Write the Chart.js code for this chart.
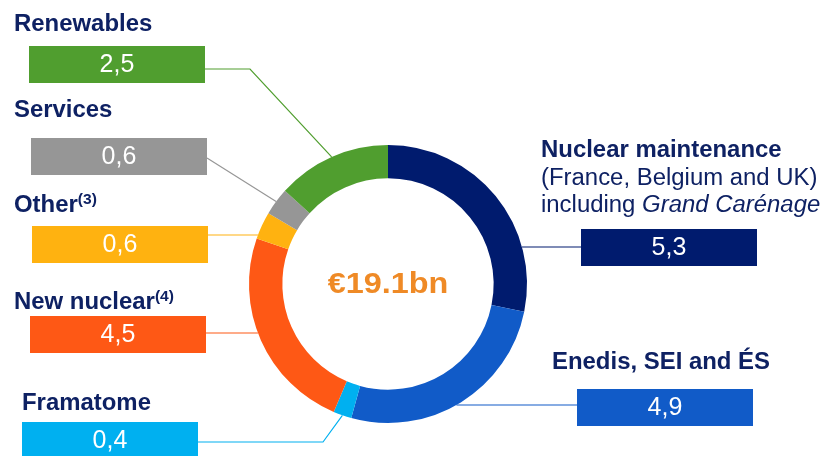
<!DOCTYPE html>
<html>
<head>
	<meta http-equiv="Content-Type" content="text/html; charset=utf-8"/>
	<script type="text/javascript" src="https://cdn.jsdelivr.net/npm/chart.js@4/dist/chart.umd.min.js"></script>
	<style type="text/css">
		body{ margin:0; background:#fff; }
		#wrap{ width:825px; height:456px; }
	</style>
</head>
<body>
	<div id="wrap">
		<canvas id="chart" width="825" height="456"></canvas>
	</div>
	<script type="text/javascript">
		// segments, clockwise from 12 o'clock
		var categorias = ["Nuclear maintenance", "Enedis, SEI and ÉS", "Framatome", "New nuclear", "Other", "Services", "Renewables"];
		var valores = [5.3, 4.9, 0.4, 4.5, 0.6, 0.6, 2.5];
		var etiquetas = ["5,3", "4,9", "0,4", "4,5", "0,6", "0,6", "2,5"];
		var colores = ["#001B6E", "#115BC8", "#00B0F0", "#FE5815", "#FFB210", "#969696", "#509E2F"];
		var total = "€19.1bn";

		var AZUL = "#0E2163";
		var FUENTE = "Liberation Sans, Arial, sans-serif";

		// where each label box sits and how its line runs
		var cajas = [
			{ x:581, y:229, titulo:[["b","Nuclear maintenance"]], tx:541, ty:157,
			  extra:[[["n","(France, Belgium and UK)"]], [["n","including "],["i","Grand Carénage"]]],
			  linea:{ tipo:"h", y:247, lado:1 } },
			{ x:577, y:389, titulo:[["b","Enedis, SEI and ÉS"]], tx:552, ty:369,
			  linea:{ tipo:"h", y:405, lado:1 } },
			{ x:22, y:422, titulo:[["b","Framatome"]], tx:22, ty:410,
			  linea:{ tipo:"codo", y:442, codo:323 } },
			{ x:30, y:316, titulo:[["b","New nuclear"],["s","(4)"]], tx:14, ty:309,
			  linea:{ tipo:"h", y:333, lado:-1 } },
			{ x:32, y:226, titulo:[["b","Other"],["s","(3)"]], tx:14, ty:212,
			  linea:{ tipo:"h", y:235, lado:-1 } },
			{ x:31, y:138, titulo:[["b","Services"]], tx:14, ty:117,
			  linea:{ tipo:"diag", y:158 } },
			{ x:29, y:46, titulo:[["b","Renewables"]], tx:14, ty:31,
			  linea:{ tipo:"codo", y:69, codo:250 } }
		];
		var ANCHO = 176, ALTO = 37;

		// text in the slide is a bit wider than plain Arial
		function escribir(ctx, partes, x, y){
			ctx.save();
			ctx.translate(x, y);
			ctx.scale(1.04, 1);
			var px = 0;
			for (var k in partes) {
				var t = partes[k][0], s = partes[k][1], dy = 0;
				if (t == "b") ctx.font = "bold 23px " + FUENTE;
				else if (t == "i") ctx.font = "italic 23px " + FUENTE;
				else if (t == "s") { ctx.font = "bold 15px " + FUENTE; dy = -8; }
				else ctx.font = "23px " + FUENTE;
				ctx.fillText(s, px, dy);
				px += ctx.measureText(s).width;
			}
			ctx.restore();
		}

		var etiquetasPlugin = {
			id: "etiquetas",
			afterDraw: function(chart){
				var ctx = chart.ctx;
				var meta = chart.getDatasetMeta(0);
				ctx.save();
				for (var i = 0; i < cajas.length; i++) {
					var c = cajas[i];
					var arc = meta.data[i].getProps(["x","y","startAngle","endAngle","outerRadius"], true);
					var r = arc.outerRadius;
					var izq = c.x < arc.x;
					var bx = izq ? c.x + ANCHO : c.x;

					// leader line
					ctx.strokeStyle = colores[i];
					ctx.lineWidth = 1.2;
					ctx.beginPath();
					ctx.moveTo(bx, c.linea.y);
					if (c.linea.tipo == "h") {
						var dx = Math.sqrt(r*r - Math.pow(c.linea.y - arc.y, 2));
						ctx.lineTo(arc.x + c.linea.lado*dx, c.linea.y);
					} else {
						var mid = (arc.startAngle + arc.endAngle) / 2;
						if (c.linea.tipo == "codo") ctx.lineTo(c.linea.codo, c.linea.y);
						ctx.lineTo(arc.x + r*Math.cos(mid), arc.y + r*Math.sin(mid));
					}
					ctx.stroke();

					// box + value
					ctx.fillStyle = colores[i];
					ctx.fillRect(c.x, c.y, ANCHO, ALTO);
					ctx.fillStyle = "#fff";
					ctx.font = "25px " + FUENTE;
					ctx.textAlign = "center";
					ctx.textBaseline = "middle";
					ctx.fillText(etiquetas[i], c.x + ANCHO/2, c.y + ALTO/2 + 1);

					// title
					ctx.fillStyle = AZUL;
					ctx.textAlign = "left";
					ctx.textBaseline = "alphabetic";
					escribir(ctx, c.titulo, c.tx, c.ty);
					if (c.extra) {
						for (var j = 0; j < c.extra.length; j++) escribir(ctx, c.extra[j], c.tx, c.ty + 27*(j+1) + 1);
					}
				}
				// centre total
				ctx.fillStyle = "#EF8A26";
				ctx.font = "bold 30px " + FUENTE;
				ctx.textAlign = "center";
				ctx.textBaseline = "middle";
				ctx.translate(meta.data[0].x, meta.data[0].y + 1);
				ctx.scale(1.08, 1);
				ctx.fillText(total, 0, 0);
				ctx.restore();
			}
		};

		new Chart(document.getElementById("chart").getContext("2d"), {
			type: "doughnut",
			data: {
				labels: categorias,
				datasets: [{ data: valores, backgroundColor: colores, borderWidth: 0 }]
			},
			options: {
				responsive: false,
				animation: false,
				cutout: "76%",
				layout: { padding: { left: 249, right: 298, top: 145, bottom: 33 } },
				plugins: { legend: { display: false }, tooltip: { enabled: false } }
			},
			plugins: [etiquetasPlugin]
		});
	</script>
</body>
</html>
